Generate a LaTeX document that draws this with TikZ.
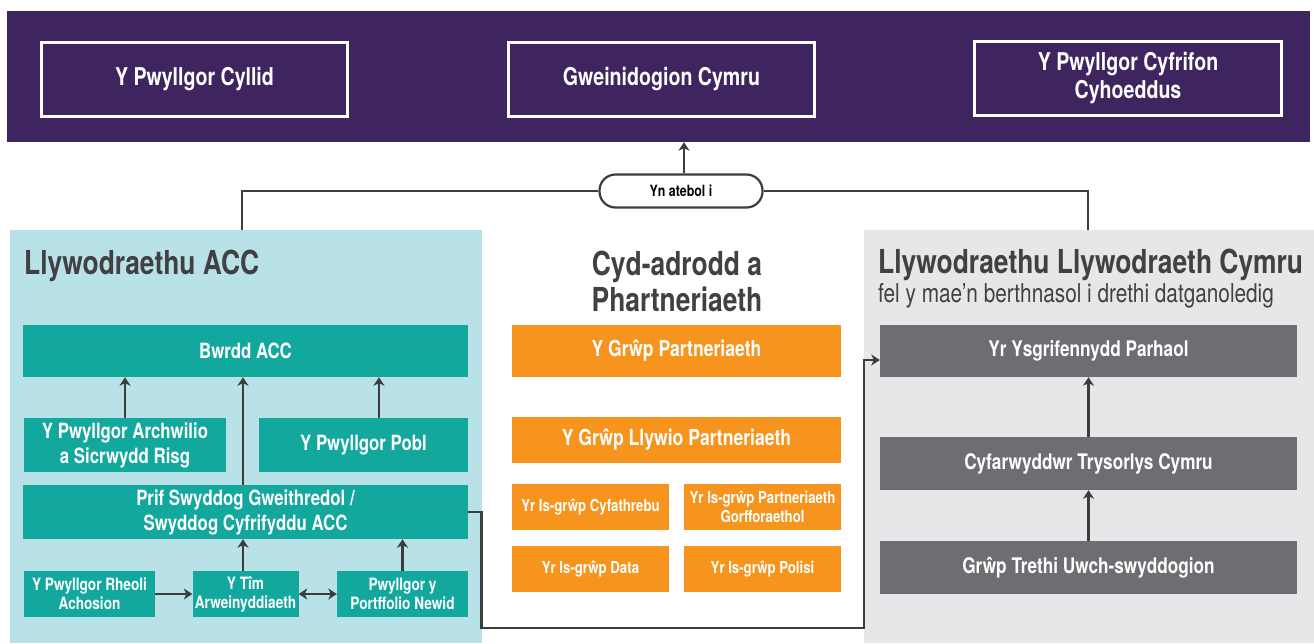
\documentclass[tikz,border=0pt]{standalone}
\usepackage{fontspec}
\setmainfont{TeX Gyre Heros}[FakeStretch=0.8]
\usetikzlibrary{arrows.meta}
\definecolor{wtapurple}{HTML}{3F2560}
\definecolor{wtateal}{HTML}{13A89E}
\definecolor{wtaorange}{HTML}{F7941D}
\definecolor{wtagrey}{HTML}{6D6E71}
\definecolor{wtablue}{HTML}{B9E2E8}
\definecolor{wtapale}{HTML}{E6E7E8}
\definecolor{wtaline}{HTML}{3D3D3D}
\definecolor{wtatext}{HTML}{414042}
\newcommand{\fsz}[2]{\fontsize{#1}{#2}\selectfont}
\begin{document}
\begin{tikzpicture}[x=1pt,y=-1pt,
  topbox/.style={draw=white,line width=3pt,fill=wtapurple,text=white,align=center,
    inner sep=0pt,minimum width=306pt,minimum height=74pt,font=\bfseries\fsz{24.5}{28}},
  box/.style={inner sep=0pt,text=white,align=center,font=\bfseries\fsz{21}{25}},
  tealbox/.style={box,fill=wtateal},
  smallteal/.style={tealbox,minimum height=46pt,font=\bfseries\fsz{17}{19}},
  orangebox/.style={box,fill=wtaorange,minimum width=329pt,font=\bfseries\fsz{22}{25}},
  smallorange/.style={box,fill=wtaorange,minimum width=157pt,minimum height=46pt,font=\bfseries\fsz{16.5}{19}},
  greybox/.style={box,fill=wtagrey,minimum width=417pt,font=\bfseries\fsz{21.5}{25}},
  heading/.style={anchor=base west,inner sep=0pt,text=wtatext,font=\bfseries\fsz{33}{36}},
  conn/.style={draw=wtaline,line width=2.7pt},
  arr/.style={conn,-{Stealth[length=8.5pt,width=11pt,inset=2.5pt]}},
  dblarr/.style={conn,{Stealth[length=8.5pt,width=11pt,inset=2.5pt]}-{Stealth[length=8.5pt,width=11pt,inset=2.5pt]}}]
\useasboundingbox (0,0) rectangle (1314,643);
% Panels
\fill[wtablue] (10,230) rectangle (482,643);
\fill[wtapale] (864,230) rectangle (1314,643);
% Top band
\node[fill=wtapurple,minimum width=1303pt,minimum height=131pt,inner sep=0pt] (band) at (658.5,76.5) {};
\node[topbox] (cyllid) at (194.5,79) {Y Pwyllgor Cyllid};
\node[topbox] (gweinidogion) at (661.5,79) {Gweinidogion Cymru};
\node[topbox,minimum width=307pt] (cyfrifon) at (1128,78.5) {Y Pwyllgor Cyfrifon\\Cyhoeddus};
% Accountable to
\coordinate (accTop) at (242,230);
\coordinate (lwcTop) at (1088,230);
\node[draw=wtaline,line width=2.2pt,fill=white,rounded corners=16pt,minimum width=163pt,
  minimum height=33pt,inner sep=0pt,text=black,font=\bfseries\fsz{15.5}{18}] (atebol) at (681,191) {Yn atebol i};
\draw[conn] (accTop) |- (atebol.west);
\draw[conn] (lwcTop) |- (atebol.east);
\draw[arr] ([xshift=3pt]atebol.north) -- ([xshift=3pt]atebol.north |- band.south);
% Headings
\node[heading] (accHead) at (24,274) {Llywodraethu ACC};
\node[heading,anchor=base,align=center] (cydHead) at (677,311) {Cyd-adrodd a\\Phartneriaeth};
\node[heading] (lwcHead) at (878,273) {Llywodraethu Llywodraeth Cymru};
\node[anchor=base west,inner sep=0pt,text=wtatext,font=\fsz{26}{28}] (lwcSub) at (878,302)
  {fel y mae’n berthnasol i drethi datganoledig};
% ACC governance
\node[tealbox,minimum width=445pt,minimum height=52pt] (bwrdd) at (245.5,351) {Bwrdd ACC};
\node[tealbox,minimum width=202pt,minimum height=54pt] (archwilio) at (125,445)
  {Y Pwyllgor Archwilio\\a Sicrwydd Risg};
\node[tealbox,minimum width=209pt,minimum height=54pt] (pobl) at (363.5,445) {Y Pwyllgor Pobl};
\node[tealbox,minimum width=445pt,minimum height=54pt] (prif) at (245.5,512)
  {Prif Swyddog Gweithredol /\\Swyddog Cyfrifyddu ACC};
\node[smallteal,minimum width=131pt] (rheoli) at (89.5,594) {Y Pwyllgor Rheoli\\Achosion};
\node[smallteal,minimum width=106pt] (tim) at (245.5,594) {Y Tîm\\Arweinyddiaeth};
\node[smallteal,minimum width=131pt] (portffolio) at (402.5,594) {Pwyllgor y\\Portffolio Newid};
\draw[arr] (archwilio) -- (archwilio |- bwrdd.south);
\draw[arr] ([xshift=15.5pt]pobl.north) -- ([xshift=15.5pt]pobl.north |- bwrdd.south);
\draw[arr] ([xshift=-2.5pt]prif.north) -- ([xshift=-2.5pt]prif.north |- bwrdd.south);
\draw[arr] ([xshift=-2.5pt]tim.north) -- ([xshift=-2.5pt]tim.north |- prif.south);
\draw[arr] (portffolio) -- (portffolio |- prif.south);
\draw[arr] (rheoli) -- (tim);
\draw[dblarr] (tim) -- (portffolio);
% Joint reporting
\node[orangebox,minimum height=52pt] (grwp) at (676.5,351) {Y Grŵp Partneriaeth};
\node[orangebox,minimum height=46pt] (llywio) at (676.5,440) {Y Grŵp Llywio Partneriaeth};
\node[smallorange] (cyfathrebu) at (590.5,507) {Yr Is-grŵp Cyfathrebu};
\node[smallorange] (gorfforaethol) at (762.5,507) {Yr Is-grŵp Partneriaeth\\Gorfforaethol};
\node[smallorange] (data) at (590.5,569) {Yr Is-grŵp Data};
\node[smallorange] (polisi) at (762.5,569) {Yr Is-grŵp Polisi};
% Welsh Government governance
\node[greybox,minimum height=52pt] (ysgrifennydd) at (1088.5,351) {Yr Ysgrifennydd Parhaol};
\node[greybox,minimum height=53pt] (cyfarwyddwr) at (1088.5,463.5) {Cyfarwyddwr Trysorlys Cymru};
\node[greybox,minimum height=53pt] (trethi) at (1088.5,567.5) {Grŵp Trethi Uwch-swyddogion};
\draw[arr] (cyfarwyddwr) -- (cyfarwyddwr |- ysgrifennydd.south);
\draw[arr] (trethi) -- (trethi |- cyfarwyddwr.south);
% Link across
\draw[arr] (prif.east) -- ++(13,0) |- (864,628) |- ([yshift=-9pt]ysgrifennydd.west);
\end{tikzpicture}
\end{document}
